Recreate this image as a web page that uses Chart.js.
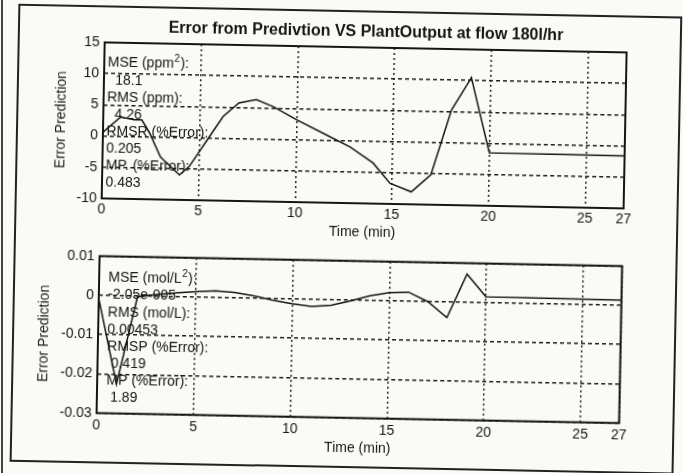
<!DOCTYPE html>
<html>
<head>
<meta charset="utf-8">
<script src="https://cdn.jsdelivr.net/npm/chart.js@4.4.1/dist/chart.umd.min.js"></script>
<style>
  html, body { margin: 0; padding: 0; background: #fafaf7; }
  #sheet { position: relative; width: 683px; height: 473px; overflow: hidden; background: #fafaf7; }
  #edge { position: absolute; left: 1px; top: 0; width: 2px; height: 473px; background: #444; }
  #page { position: absolute; left: 0; top: 0; width: 683px; height: 473px;
          transform: rotate(1.1deg); transform-origin: 341.5px 236.5px; }
  #frame { position: absolute; left: 14px; top: 10px; width: 664px; height: 458px;
           border: 2px solid #222; box-sizing: border-box; }
  canvas { position: absolute; left: 0; }
</style>
</head>
<body>
<div id="sheet">
  <div id="edge"></div>
  <div id="page">
    <div id="frame"></div>
    <canvas id="flowChart" width="683" height="245" style="top:0"></canvas>
    <canvas id="concChart" width="683" height="228" style="top:245px"></canvas>
  </div>
</div>
<script>
// prediction error at flow 180 l/hr, ppm
const flowTime  = [0, 0.9, 1.6, 2.0, 2.4, 3.0, 4.0, 4.5, 5.4, 6.2, 7.0, 7.9, 8.8, 10.0, 11.4, 12.8, 14.0, 14.9, 16.0, 17.0, 18.0, 19.0, 20.0, 27];
const flowError = [0.6, 3.1, 2.7, 2.7, 0.7, -3.2, -6.0, -4.6, -0.3, 3.5, 5.7, 6.3, 5.2, 3.2, 1.1, -1.0, -3.5, -6.7, -8.0, -5.2, 5.2, 10.5, -1.5, -1.6];

// prediction error of concentration, mol/L
const concTime  = [0, 1, 2, 3, 4, 5, 6, 7, 8, 9, 10, 11, 12, 13, 14, 15, 16, 17, 18, 19, 20, 27];
const concError = [-0.0008, -0.0225, -0.0002, 0.0005, 0.0010, 0.0014, 0.0017, 0.0014, 0.0006, -0.0004, -0.0012, -0.0018, -0.0014, -0.0002, 0.0012, 0.0021, 0.0023, 0.0000, -0.0040, 0.0072, 0.0015, 0.0013];

const timeTicks = [0, 5, 10, 15, 20, 25, 27];
const flowTicks = [-10, -5, 0, 5, 10, 15];
const concTicks = [-0.03, -0.02, -0.01, 0, 0.01];

// '^2' marks a superscript two
const flowNotes = ['MSE (ppm^2):', '  18.1', 'RMS (ppm):', '  4.26', 'RMSR (%Error):', '0.205', 'MP. (%Error):', '0.483'];
const concNotes = ['MSE (mol/L^2):', '-2.05e-005', 'RMS (mol/L):', '0.00453', 'RMSP (%Error):', ' 0.419', 'MP (%Error):', ' 1.89'];

const FONT = '"Liberation Sans", Arial, sans-serif';
const INK = '#151515';

function drawNote(ctx, text, x, y) {
  const parts = text.split('^2');
  let cx = x;
  parts.forEach((p, i) => {
    ctx.font = '14px ' + FONT;
    ctx.fillText(p, cx, y);
    cx += ctx.measureText(p).width;
    if (i < parts.length - 1) {
      ctx.font = '10px ' + FONT;
      ctx.fillText('2', cx + 0.5, y - 5);
      cx += ctx.measureText('2').width + 1;
    }
  });
}

// axes box + the stats text block (placed in data units)
const boxAndNotes = {
  id: 'boxAndNotes',
  afterDatasetsDraw(chart, args, opts) {
    const { ctx, chartArea: a, scales: { x, y } } = chart;
    ctx.save();
    ctx.fillStyle = INK;
    ctx.textBaseline = 'middle';
    const px = x.getPixelForValue(opts.at[0]);
    const py = y.getPixelForValue(opts.at[1]);
    opts.lines.forEach((t, i) => drawNote(ctx, t, px, py + i * opts.step));
    ctx.lineWidth = 2;
    ctx.strokeStyle = INK;
    ctx.strokeRect(a.left, a.top, a.width, a.height);
    ctx.restore();
  }
};

function makeChart(id, o) {
  return new Chart(document.getElementById(id), {
    type: 'line',
    data: {
      datasets: [{
        data: o.t.map((t, i) => ({ x: t, y: o.v[i] })),
        borderColor: INK,
        borderWidth: 1.5,
        pointRadius: 0,
        tension: 0,
        fill: false
      }]
    },
    options: {
      responsive: false,
      animation: false,
      devicePixelRatio: 1,
      layout: { padding: o.pad },
      plugins: {
        legend: { display: false },
        tooltip: { enabled: false },
        title: o.title ? {
          display: true,
          text: o.title,
          fullSize: false,
          color: INK,
          font: { family: FONT, size: 16, weight: 'bold' },
          padding: { top: 22.4, bottom: 5.4 }
        } : { display: false },
        boxAndNotes: { lines: o.notes, at: o.noteAt, step: 17.1 }
      },
      scales: {
        x: {
          type: 'linear',
          min: 0,
          max: 27,
          afterBuildTicks: s => { s.ticks = timeTicks.map(v => ({ value: v })); },
          afterFit: s => { s.height = o.xHeight; },
          ticks: {
            autoSkip: false, maxRotation: 0, padding: o.xTickPad, color: INK,
            font: { family: FONT, size: 14 },
            callback: v => String(v)
          },
          grid: { color: '#1e1e1e', lineWidth: 1.5, drawTicks: false },
          border: { display: false, dash: [2, 3] },
          title: {
            display: true, text: 'Time (min)', color: INK,
            font: { family: FONT, size: 14 },
            padding: { top: 0, bottom: o.xTitlePad }
          }
        },
        y: {
          min: o.yTicks[0],
          max: o.yTicks[o.yTicks.length - 1],
          afterBuildTicks: s => { s.ticks = o.yTicks.map(v => ({ value: v })); },
          afterFit: s => { s.width = o.yWidth; },
          ticks: {
            padding: 5, color: INK,
            font: { family: FONT, size: 14 },
            callback: v => String(v)
          },
          grid: { color: '#1e1e1e', lineWidth: 1.5, drawTicks: false },
          border: { display: false, dash: [4, 3] },
          title: {
            display: true, text: 'Error Prediction', color: INK,
            font: { family: FONT, size: 14 },
            padding: { top: o.yTitlePad, bottom: 0 }
          }
        }
      }
    },
    plugins: [boxAndNotes]
  });
}

makeChart('flowChart', {
  t: flowTime, v: flowError, yTicks: flowTicks,
  title: 'Error from Predivtion VS PlantOutput at flow 180l/hr',
  notes: flowNotes, noteAt: [0.18, 11.7],
  pad: { left: 48, right: 60, top: 0, bottom: 0 },
  yWidth: 53, yTitlePad: 2.6,
  xHeight: 42, xTickPad: 3.2, xTitlePad: 4
});

makeChart('concChart', {
  t: concTime, v: concError, yTicks: concTicks,
  notes: concNotes, noteAt: [0.48, 0.00445],
  pad: { left: 38, right: 60.4, top: 15.7, bottom: 0 },
  yWidth: 62, yTitlePad: 0,
  xHeight: 55.3, xTickPad: 3.6, xTitlePad: 16
});
</script>
</body>
</html>
